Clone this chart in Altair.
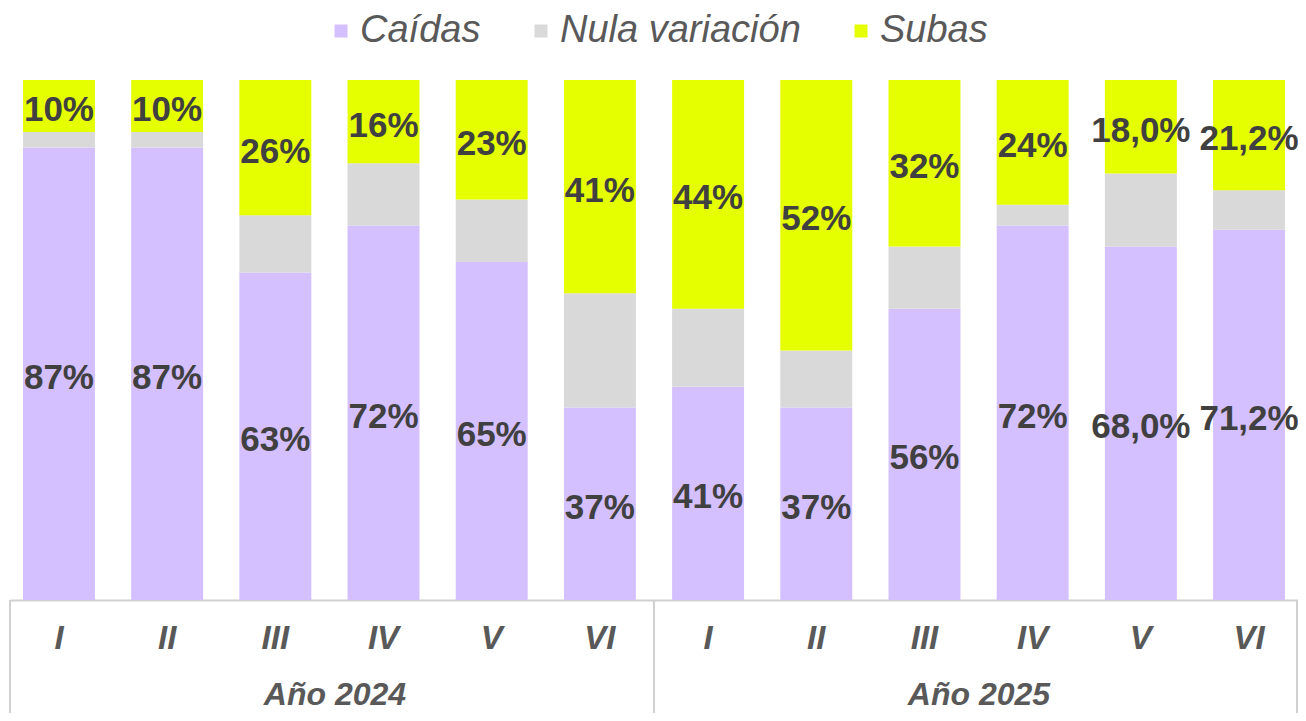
import altair as alt
import pandas as pd

# ---- data ----
periodos = ["I", "II", "III", "IV", "V", "VI", "I", "II", "III", "IV", "V", "VI"]
anios = ["2024"] * 6 + ["2025"] * 6
caidas = [87, 87, 63, 72, 65, 37, 41, 37, 56, 72, 68.0, 71.2]
nula = [3, 3, 11, 12, 12, 22, 15, 11, 12, 4, 14, 7.6]
subas = [10, 10, 26, 16, 23, 41, 44, 52, 32, 24, 18.0, 21.2]
decimales = [0] * 10 + [1, 1]
series = ["Caídas", "Nula variación", "Subas"]
colores = ["#D4BFFF", "#D9D9D9", "#E5FF00"]
grupos = ["Año 2024", "Año 2025"]

rows = []
for i, (p, a) in enumerate(zip(periodos, anios)):
    key = f"{a} {p}"
    for j, (s, v) in enumerate(zip(series, [caidas[i], nula[i], subas[i]])):
        lbl = f"{v:.{decimales[i]}f}".replace(".", ",") + "%"
        rows.append(dict(key=key, serie=s, orden=j, valor=v, etiqueta=lbl))
df = pd.DataFrame(rows)
orden_x = [f"{a} {p}" for p, a in zip(periodos, anios)]

W, H = 1288, 520
FONT = "Liberation Sans"

x_enc = alt.X(
    "key:N",
    sort=orden_x,
    scale=alt.Scale(paddingInner=0.335, paddingOuter=0.12),
    axis=alt.Axis(
        title=None,
        labelExpr="split(datum.value, ' ')[1]",
        labelAngle=0,
        labelFont=FONT,
        labelFontSize=33,
        labelFontStyle="italic",
        labelFontWeight="bold",
        labelColor="#595959",
        labelPadding=22,
        ticks=False,
        domainColor="#D0D0D0",
        domainWidth=2,
        grid=False,
    ),
)

base = alt.Chart(df)

bars = base.mark_bar().encode(
    x=x_enc,
    y=alt.Y("valor:Q", stack="zero", scale=alt.Scale(domain=[0, 100]), axis=None),
    color=alt.Color(
        "serie:N",
        scale=alt.Scale(domain=series, range=colores),
        legend=alt.Legend(
            title=None,
            orient="none",
            legendX=312,
            legendY=-68,
            direction="horizontal",
            symbolType="square",
            symbolSize=169,
            symbolStrokeWidth=0,
            labelFont=FONT,
            labelFontSize=38,
            labelFontStyle="italic",
            labelColor="#595959",
            labelOffset=0,
            labelLimit=400,
            columnPadding=41,
            padding=0,
        ),
    ),
    order=alt.Order("orden:Q", sort="ascending"),
)

labels = (
    base.transform_stack(
        stack="valor",
        groupby=["key"],
        sort=[alt.SortField("orden", order="ascending")],
        as_=["y0", "y1"],
    )
    .transform_calculate(mid="(datum.y0 + datum.y1) / 2")
    .transform_filter("datum.serie != 'Nula variación'")
    .mark_text(font=FONT, fontSize=35, fontWeight="bold", color="#404040",
               baseline="middle", dy=4)
    .encode(
        x=x_enc,
        y=alt.Y("mid:Q", scale=alt.Scale(domain=[0, 100]), axis=None),
        text="etiqueta:N",
    )
)

one = pd.DataFrame({"d": [0]})

seps = [
    alt.Chart(one).mark_rule(color="#D0D0D0", strokeWidth=2).encode(
        x=alt.value(px), y=alt.value(H), y2=alt.value(H + 130)
    )
    for px in [0, W / 2, W - 1]
]

group_txt = [
    alt.Chart(one).mark_text(
        text=g, font=FONT, fontSize=32, fontStyle="italic", fontWeight="bold",
        color="#595959", baseline="middle"
    ).encode(x=alt.value(W / 4 + k * W / 2 + 3), y=alt.value(H + 95))
    for k, g in enumerate(grupos)
]

chart = alt.layer(bars, labels, *seps, *group_txt).properties(
    width=W,
    height=H,
    autosize=alt.AutoSizeParams(type="none"),
    padding={"left": 2, "top": 72, "right": 0, "bottom": 113},
).configure_view(stroke=None)

chart.save("out.html", embed_options={"renderer": "svg", "actions": False})
